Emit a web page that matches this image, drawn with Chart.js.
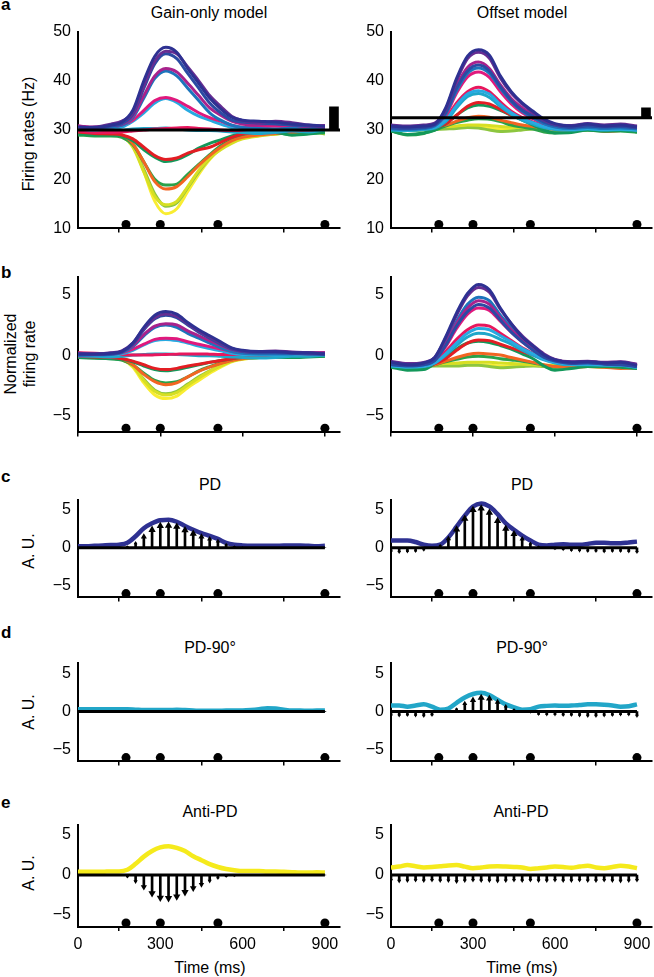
<!DOCTYPE html>
<html>
<head>
<meta charset="utf-8">
<title>Gain-only vs offset model</title>
<script src="https://cdn.jsdelivr.net/npm/chart.js@4.4.1/dist/chart.umd.min.js"></script>
<style>
  html, body { margin: 0; padding: 0; background: #fff; }
  body { width: 654px; height: 977px; position: relative; overflow: hidden;
         font-family: "Liberation Sans", Arial, Helvetica, sans-serif; color: #000; }
  canvas { position: absolute; }
  .txt { position: absolute; white-space: nowrap; line-height: 1; font-size: 16px; transform: translate(-50%, -50%); }
  .rot { transform: translate(-50%, -50%) rotate(-90deg); text-align: center; }
  .letter { position: absolute; font-weight: bold; font-size: 17px; line-height: 1; }
</style>
</head>
<body>
<div class="letter" style="left:1px;top:-4px">a</div>
<div class="letter" style="left:1px;top:264px">b</div>
<div class="letter" style="left:1px;top:468px">c</div>
<div class="letter" style="left:1px;top:624px">d</div>
<div class="letter" style="left:1px;top:794px">e</div>

<div class="txt" style="left:209px;top:13px">Gain-only model</div>
<div class="txt" style="left:522px;top:13px">Offset model</div>
<div class="txt" style="left:210px;top:485px">PD</div>
<div class="txt" style="left:522px;top:485px">PD</div>
<div class="txt" style="left:210px;top:648px">PD-90°</div>
<div class="txt" style="left:522px;top:648px">PD-90°</div>
<div class="txt" style="left:210px;top:812px">Anti-PD</div>
<div class="txt" style="left:521px;top:812px">Anti-PD</div>
<div class="txt" style="left:210px;top:968px">Time (ms)</div>
<div class="txt" style="left:522px;top:968px">Time (ms)</div>

<div class="txt rot" style="left:29px;top:134px">Firing rates (Hz)</div>
<div class="txt rot" style="left:20px;top:354px;line-height:19px">Normalized<br>firing rate</div>
<div class="txt rot" style="left:29px;top:551px">A. U.</div>
<div class="txt rot" style="left:29px;top:712px">A. U.</div>
<div class="txt rot" style="left:29px;top:873px">A. U.</div>

<script>
// ---- data ----
const timeTicks = [0, 300, 600, 900];
const rateTicks = [10, 20, 30, 40, 50];
const auTicks = [-5, 0, 5];
const eventTimes = [175, 300, 510, 900];

const directions = ['PD', 'PD+22.5°', 'PD-22.5°', 'PD+45°', 'PD-45°', 'PD+67.5°', 'PD-67.5°', 'PD+90°',
                    'PD-90°', 'PD+112.5°', 'PD-112.5°', 'PD+135°', 'PD-135°', 'PD+157.5°', 'PD-157.5°', 'Anti-PD'];
const dirColors = ['#2e3192', '#662d91', '#2b4ba3', '#a8228c', '#1c75bc', '#e0197d', '#27aae1', '#e8175d',
                   '#1fa7c9', '#e31e24', '#13985a', '#f26522', '#2aa24a', '#d7df23', '#8dc63f', '#f9ed32'];

// sample times of the firing-rate traces (ms)
const traceTimes = [0, 60, 120, 160, 200, 240, 280, 320, 360, 400, 440, 480, 520, 560, 600, 660, 720, 780, 840, 900];

const gainRates = [
  [30.6,30.5,31.0,31.6,34.0,40.0,45.0,46.8,45.8,42.5,39.5,36.5,34.3,32.6,32.0,31.8,31.6,31.2,31.0,30.8],
  [30.5,30.6,31.2,31.8,33.5,39.0,44.0,46.0,45.5,42.8,40.0,37.0,34.8,32.8,31.9,31.5,31.8,31.5,31.0,30.6],
  [30.4,30.3,30.8,31.3,33.2,38.5,43.5,45.5,44.5,41.5,38.5,35.5,33.5,32.0,31.6,31.4,31.2,31.0,30.8,30.5],
  [30.8,30.6,30.9,31.2,32.8,37.0,41.0,42.5,41.8,39.5,37.0,34.5,33.0,31.8,31.2,31.0,31.3,31.0,30.7,30.9],
  [30.3,30.2,30.6,31.0,32.5,36.5,40.5,42.0,41.0,38.5,36.0,33.5,32.0,31.0,30.5,30.3,30.2,30.4,30.5,30.3],
  [30.8,30.5,30.6,31.0,32.0,34.0,36.0,36.6,36.0,34.8,33.5,32.5,31.8,31.0,30.6,30.6,30.8,30.5,30.6,30.9],
  [30.2,30.0,30.3,30.6,31.8,33.5,35.5,36.4,35.6,34.0,32.8,32.0,31.2,30.5,30.0,29.8,29.8,30.0,30.3,30.2],
  [29.8,29.5,29.5,29.6,29.8,30.0,30.2,30.3,30.4,30.5,30.3,30.2,30.0,29.9,29.9,30.0,30.2,30.1,30.0,30.3],
  [30.0,29.8,29.7,29.9,30.2,30.3,30.3,30.4,30.2,30.0,29.9,29.9,29.8,29.6,29.5,29.3,29.5,29.8,29.6,30.0],
  [29.6,29.3,29.2,29.0,28.2,26.5,24.8,24.0,24.3,25.3,26.0,26.5,27.5,28.5,29.2,29.5,29.6,29.8,30.0,30.3],
  [29.2,29.0,29.0,28.8,27.8,26.0,24.5,23.6,24.0,25.0,26.3,27.3,28.0,28.8,29.3,29.6,29.5,29.0,29.2,29.6],
  [29.6,29.4,29.3,29.0,27.2,23.5,19.5,18.0,18.5,20.5,22.8,24.8,26.5,27.8,28.5,29.0,29.3,29.5,29.6,29.8],
  [29.0,28.8,28.8,28.5,27.0,23.5,20.0,18.8,19.0,21.0,23.0,25.0,26.8,28.0,28.8,29.3,29.5,29.0,29.3,29.5],
  [29.4,29.2,29.3,28.8,26.5,21.5,16.5,14.8,15.5,18.5,21.8,24.3,26.0,27.3,28.2,28.8,29.2,29.5,29.7,29.6],
  [29.3,29.0,29.1,28.7,26.8,22.0,17.0,14.5,15.2,18.3,21.5,24.2,26.2,27.5,28.4,28.9,29.2,29.4,29.6,29.2],
  [29.5,29.3,29.5,29.0,27.0,21.5,15.5,13.0,14.0,17.5,21.0,24.0,26.3,27.8,28.6,29.0,29.2,29.5,29.8,29.3]
];

const offsetRates = [
  [30.8,30.6,30.8,31.2,34.5,40.5,45.0,46.3,45.2,41.0,37.8,35.5,33.8,32.2,31.3,30.8,31.2,30.8,31.0,30.6],
  [31.0,30.8,31.0,31.4,34.2,40.0,44.5,45.8,44.6,40.6,37.5,35.3,33.5,32.0,31.2,30.9,31.3,31.0,31.2,30.8],
  [30.4,30.3,30.5,31.0,33.5,38.5,42.0,43.2,42.0,38.8,36.0,34.0,32.8,31.6,31.0,30.5,30.8,30.6,30.7,30.4],
  [30.6,30.5,30.7,31.1,33.8,39.0,42.7,43.8,42.5,39.2,36.4,34.5,33.0,31.8,31.0,30.7,31.0,30.8,30.9,30.6],
  [30.2,30.1,30.3,30.8,33.2,38.0,41.5,42.6,41.5,38.5,35.8,33.8,32.5,31.3,30.6,30.3,30.5,30.3,30.4,30.2],
  [30.5,30.4,30.6,31.0,33.0,37.5,40.8,41.8,40.7,37.8,35.3,33.5,32.3,31.3,30.7,30.5,30.7,30.5,30.8,30.4],
  [30.1,30.0,30.2,30.6,32.0,35.0,37.3,38.0,37.3,35.2,33.5,32.3,31.5,30.7,30.3,30.1,30.3,30.1,30.2,30.0],
  [30.3,30.2,30.4,30.8,32.3,35.5,37.8,38.7,37.8,35.7,33.8,32.5,31.6,30.9,30.4,30.2,30.4,30.3,30.5,30.2],
  [30.0,29.9,30.1,30.4,31.7,34.5,36.8,37.4,36.6,34.8,33.2,32.0,31.2,30.5,30.1,30.0,30.2,30.0,30.1,29.9],
  [30.3,30.1,30.2,30.5,31.3,33.0,34.8,35.6,35.3,34.2,33.0,32.2,31.5,30.8,30.3,30.2,30.4,30.1,30.3,30.0],
  [29.8,29.1,29.4,30.0,31.2,33.0,34.5,35.1,34.8,34.0,33.0,32.0,31.0,30.0,29.4,29.5,30.0,29.8,29.9,29.7],
  [30.2,30.0,30.3,30.6,31.0,31.8,32.5,32.8,32.6,32.0,31.5,31.0,30.7,30.4,30.1,30.0,30.2,29.8,29.9,30.0],
  [29.8,29.0,29.3,30.0,30.8,31.5,32.0,32.3,32.2,31.7,31.0,30.6,30.2,29.6,29.4,29.8,30.0,29.7,29.8,29.5],
  [30.4,30.3,30.5,30.6,30.7,30.8,31.0,31.0,30.9,30.7,30.6,30.5,30.4,30.3,30.2,30.3,30.5,30.2,30.3,30.1],
  [30.0,29.9,30.0,30.1,30.2,30.3,30.5,30.4,30.0,29.7,29.8,30.0,30.2,30.1,29.9,29.8,30.0,29.9,30.0,29.7],
  [30.5,30.3,30.2,30.3,30.4,30.5,30.6,30.6,30.4,30.2,30.3,30.4,30.3,30.2,30.1,30.0,30.2,30.0,30.2,30.0]
];

const gainNorm = [
  [0.1,0.1,0.15,0.3,1.0,2.3,3.3,3.6,3.4,2.7,2.1,1.6,1.1,0.6,0.4,0.3,0.3,0.2,0.2,0.1],
  [0.15,0.1,0.2,0.35,1.0,2.2,3.1,3.4,3.2,2.6,2.0,1.5,1.0,0.55,0.35,0.3,0.35,0.25,0.2,0.15],
  [0.0,0.05,0.1,0.25,0.9,2.1,3.0,3.3,3.1,2.5,1.9,1.4,0.9,0.5,0.3,0.2,0.2,0.15,0.1,0.05],
  [0.1,0.1,0.15,0.3,0.8,1.7,2.4,2.6,2.5,2.0,1.6,1.2,0.8,0.45,0.3,0.25,0.3,0.2,0.15,0.2],
  [0.0,0.0,0.05,0.2,0.7,1.6,2.3,2.5,2.3,1.8,1.4,1.0,0.6,0.3,0.15,0.1,0.1,0.1,0.15,0.1],
  [0.15,0.1,0.1,0.2,0.5,0.9,1.3,1.4,1.35,1.1,0.9,0.7,0.5,0.3,0.2,0.15,0.2,0.15,0.2,0.2],
  [-0.05,-0.05,0.0,0.1,0.4,0.85,1.2,1.3,1.2,1.0,0.75,0.55,0.35,0.15,0.05,0.0,0.0,0.05,0.1,0.0],
  [0.2,0.15,0.1,0.05,0.0,0.0,0.02,0.05,0.08,0.1,0.1,0.08,0.05,0.05,0.05,0.05,0.1,0.1,0.1,0.15],
  [-0.05,-0.1,-0.15,-0.1,0.0,0.05,0.1,0.1,0.05,0.0,-0.05,-0.05,-0.1,-0.15,-0.2,-0.25,-0.2,-0.1,-0.1,0.0],
  [-0.1,-0.15,-0.2,-0.3,-0.5,-0.8,-1.1,-1.2,-1.1,-0.9,-0.75,-0.6,-0.45,-0.3,-0.15,-0.1,-0.05,0.0,0.05,0.1],
  [-0.2,-0.25,-0.3,-0.35,-0.55,-0.9,-1.2,-1.3,-1.2,-1.0,-0.8,-0.6,-0.45,-0.3,-0.2,-0.1,-0.15,-0.2,-0.15,-0.1],
  [-0.1,-0.15,-0.2,-0.3,-0.8,-1.6,-2.2,-2.45,-2.3,-1.8,-1.35,-1.0,-0.7,-0.45,-0.3,-0.2,-0.15,-0.1,0.0,0.0],
  [-0.2,-0.25,-0.3,-0.4,-0.8,-1.5,-2.1,-2.3,-2.2,-1.8,-1.3,-0.95,-0.65,-0.4,-0.25,-0.15,-0.15,-0.2,-0.1,-0.05],
  [-0.1,-0.15,-0.2,-0.35,-0.9,-2.1,-3.0,-3.3,-3.1,-2.5,-1.9,-1.35,-0.9,-0.5,-0.3,-0.2,-0.1,-0.05,0.0,0.0],
  [-0.15,-0.2,-0.25,-0.4,-0.9,-2.0,-2.9,-3.2,-3.0,-2.4,-1.8,-1.3,-0.85,-0.5,-0.3,-0.2,-0.15,-0.1,-0.05,-0.1],
  [-0.1,-0.15,-0.2,-0.35,-1.0,-2.3,-3.3,-3.6,-3.4,-2.7,-2.1,-1.5,-1.0,-0.55,-0.35,-0.2,-0.1,-0.05,0.0,-0.05]
];

const offsetNorm = [
  [-0.6,-0.8,-0.65,-0.2,1.5,3.5,5.1,5.85,5.4,3.9,2.6,1.5,0.75,0.0,-0.4,-0.6,-0.55,-0.65,-0.6,-0.85],
  [-0.5,-0.7,-0.6,-0.2,1.4,3.3,4.9,5.6,5.2,3.8,2.6,1.6,0.8,0.1,-0.35,-0.55,-0.5,-0.6,-0.55,-0.75],
  [-0.8,-0.9,-0.8,-0.45,0.8,2.4,3.6,4.2,3.9,2.9,1.9,1.1,0.4,-0.2,-0.5,-0.7,-0.65,-0.75,-0.8,-0.95],
  [-0.6,-0.75,-0.7,-0.35,0.9,2.6,3.9,4.5,4.2,3.1,2.1,1.3,0.55,-0.05,-0.4,-0.6,-0.55,-0.65,-0.6,-0.8],
  [-0.75,-0.85,-0.8,-0.4,1.0,2.8,4.2,4.8,4.5,3.3,2.3,1.4,0.6,0.0,-0.4,-0.6,-0.55,-0.65,-0.7,-0.9],
  [-0.7,-0.8,-0.75,-0.4,0.7,2.2,3.4,3.9,3.7,2.8,1.9,1.1,0.45,-0.1,-0.45,-0.65,-0.6,-0.7,-0.65,-0.85],
  [-0.9,-1.0,-0.95,-0.65,0.1,1.0,1.8,2.2,2.1,1.6,1.1,0.55,0.1,-0.35,-0.6,-0.75,-0.75,-0.8,-0.85,-1.0],
  [-0.75,-0.85,-0.8,-0.5,0.3,1.3,2.1,2.5,2.4,1.8,1.2,0.6,0.15,-0.3,-0.55,-0.7,-0.7,-0.75,-0.7,-0.9],
  [-0.85,-0.95,-0.9,-0.65,0.0,0.8,1.5,1.8,1.7,1.3,0.9,0.4,0.0,-0.4,-0.65,-0.8,-0.8,-0.85,-0.85,-1.0],
  [-0.8,-0.9,-0.9,-0.7,-0.3,0.4,1.0,1.25,1.2,0.9,0.6,0.3,0.0,-0.3,-0.6,-0.75,-0.75,-0.8,-0.8,-0.95],
  [-1.0,-1.25,-1.2,-0.7,-0.2,0.5,1.0,1.15,1.05,0.8,0.5,0.1,-0.3,-0.9,-1.25,-1.1,-0.95,-0.95,-1.0,-1.1],
  [-0.9,-0.95,-0.9,-0.8,-0.5,-0.2,0.05,0.15,0.1,0.0,-0.2,-0.4,-0.6,-0.8,-0.95,-1.0,-0.95,-1.0,-1.1,-1.05],
  [-0.9,-1.15,-1.0,-0.8,-0.55,-0.35,-0.15,-0.1,-0.15,-0.3,-0.4,-0.5,-0.65,-0.85,-1.0,-0.95,-0.9,-0.95,-1.0,-1.1],
  [-0.8,-0.85,-0.8,-0.75,-0.7,-0.65,-0.6,-0.6,-0.6,-0.65,-0.7,-0.75,-0.8,-0.85,-0.85,-0.9,-0.85,-0.9,-0.9,-0.95],
  [-0.95,-1.0,-0.95,-0.9,-0.9,-0.9,-0.85,-0.85,-0.95,-1.05,-1.0,-0.95,-0.9,-0.95,-1.0,-1.0,-0.95,-1.0,-1.0,-1.05],
  [-0.9,-0.95,-0.9,-0.85,-0.85,-0.8,-0.8,-0.8,-0.85,-0.9,-0.9,-0.85,-0.85,-0.9,-0.95,-0.95,-0.9,-0.95,-0.95,-1.0]
];

// reference level + scale bar of panel a
const gainBaseline = 30;
const gainScaleBar = [30, 34.7];
const offsetBaseline = 32.5;
const offsetScaleBar = [32.5, 34.5];
const scaleBarTime = 933;

// population vectors (c-e), sampled every 30 ms
const vecTimes = [0,30,60,90,120,150,180,210,240,270,300,330,360,390,420,450,480,510,540,570,600,630,660,690,720,750,780,810,840,870,900];

const pdGain      = [0.2,0.2,0.25,0.3,0.35,0.4,0.65,1.5,2.55,3.2,3.6,3.65,3.4,2.85,2.35,1.9,1.55,1.15,0.65,0.4,0.3,0.25,0.25,0.25,0.25,0.3,0.3,0.3,0.25,0.2,0.25];
const pdGainVec   = [0,0,0,0,0,0,0.15,0.6,1.45,2.35,2.85,2.9,2.75,2.3,1.85,1.45,1.15,0.85,0.4,0.15,0.05,0,0,0,0,0,0,0,0,0,0];
const pdOffset    = [0.95,0.95,0.95,0.75,0.4,0.25,0.4,1.35,2.75,4.2,5.4,5.8,5.4,4.4,3.2,2.35,1.6,0.95,0.4,0.3,0.4,0.45,0.4,0.4,0.5,0.65,0.65,0.6,0.6,0.7,0.8];
const pdOffsetVec = [-0.5,-0.55,-0.5,-0.45,-0.3,0,0.3,1.2,2.4,3.8,4.95,5.15,4.6,3.5,2.5,1.8,1.15,0.55,0.15,0,-0.15,-0.25,-0.35,-0.4,-0.45,-0.45,-0.5,-0.45,-0.45,-0.5,-0.55];

const orthGain      = [0.3,0.3,0.3,0.3,0.3,0.3,0.3,0.25,0.2,0.2,0.2,0.2,0.25,0.2,0.15,0.1,0.1,0.1,0.15,0.15,0.15,0.2,0.3,0.45,0.4,0.25,0.15,0.15,0.1,0.15,0.15];
const orthGainVec   = [0,0,0,0,0,0,0,0,0,0,0,0,0,0,0,0,0,0,0,0,0,0,0,0,0,0,0,0,0,0,0];
const orthOffset    = [0.8,0.8,0.65,0.8,0.95,0.65,0.25,0.4,1.15,1.85,2.3,2.45,2.15,1.55,0.95,0.55,0.25,0.3,0.65,0.75,0.8,0.75,0.8,0.85,0.95,0.95,0.9,0.8,0.65,0.7,0.95];
const orthOffsetVec = [-0.5,-0.5,-0.45,-0.5,-0.55,-0.45,0,0.05,0.35,1.05,1.5,1.8,1.7,1.25,0.7,0.25,0,-0.1,-0.35,-0.4,-0.4,-0.45,-0.45,-0.5,-0.55,-0.55,-0.5,-0.45,-0.4,-0.4,-0.55];

const antiGain      = [0.4,0.4,0.4,0.4,0.45,0.45,0.65,1.4,2.3,3.0,3.45,3.6,3.4,3.0,2.35,1.85,1.35,1.0,0.75,0.6,0.5,0.5,0.5,0.45,0.45,0.4,0.35,0.3,0.3,0.35,0.3];
const antiGainVec   = [0,0,0,0,0,0,-0.25,-0.8,-1.5,-2.3,-2.85,-2.9,-2.7,-2.15,-1.65,-1.2,-0.75,-0.4,-0.2,-0.1,0,0,0,0,0,0,0,0,0,0,0];
const antiOffset    = [0.95,1.05,1.25,1.1,0.95,1.0,1.1,1.2,1.25,1.05,0.85,0.95,1.05,1.1,1.05,1.0,0.95,0.75,0.85,0.95,1.05,1.0,0.9,1.05,1.15,0.95,0.85,1.0,1.15,1.05,0.85];
const antiOffsetVec = [-0.65,-0.75,-0.7,-0.65,-0.7,-0.65,-0.7,-0.7,-0.8,-0.7,-0.65,-0.7,-0.7,-0.75,-0.7,-0.65,-0.7,-0.65,-0.7,-0.7,-0.65,-0.7,-0.7,-0.65,-0.7,-0.7,-0.65,-0.7,-0.75,-0.7,-0.65];

// ---- layout ----
Chart.defaults.font.family = '"Liberation Sans", Arial, Helvetica, sans-serif';
Chart.defaults.font.size = 16;
Chart.defaults.color = '#000';

const X_MAX = 955;
const COLS = [{ left: 78, right: 340 }, { left: 391, right: 652 }];
const ROWS = [
  { top: 29, bottom: 233 },
  { top: 274, bottom: 437 },
  { top: 497, bottom: 602 },
  { top: 660, bottom: 766 },
  { top: 822, bottom: 927 }
];
const Y_AXIS_W = 50, PAD_TOP = 14, PAD_RIGHT = 24;

const fixedTicks = values => scale => { scale.ticks = values.map(v => ({ value: v })); };
const pts = (times, values) => times.map((t, i) => ({ x: t, y: values[i] }));

function trace(times, values, color, width, label) {
  return {
    type: 'line', label, data: pts(times, values), borderColor: color, borderWidth: width,
    pointRadius: 0, cubicInterpolationMode: 'monotone', borderJoinStyle: 'round', fill: false, order: 3
  };
}

function refLine(level, x1) {
  return { type: 'line', data: [{ x: 0, y: level }, { x: x1, y: level }], borderColor: '#000',
           borderWidth: 3, pointRadius: 0, order: 1 };
}

function scaleBar(range) {
  return { type: 'bar', data: [{ x: scaleBarTime, y: range }], backgroundColor: '#000',
           barThickness: 9, grouped: false, order: 1 };
}

function stems(times, values) {
  return { type: 'bar', data: pts(times, values), backgroundColor: '#000', barThickness: 2,
           grouped: false, order: 0 };
}

function heads(times, values) {
  const v = ctx => (ctx.raw ? ctx.raw.y : 0);
  return {
    type: 'line', showLine: false, data: pts(times, values), pointStyle: 'triangle',
    pointRadius: ctx => Math.abs(v(ctx)) < 0.05 ? 0 : Math.min(4.2, 1.2 + Math.abs(v(ctx)) * 1.6),
    pointRotation: ctx => v(ctx) < 0 ? 180 : 0,
    pointBackgroundColor: '#000', pointBorderWidth: 0, order: 0
  };
}

function events(level) {
  return { type: 'line', showLine: false, data: eventTimes.map(t => ({ x: t, y: level })),
           pointRadius: 4.5, pointBackgroundColor: '#000', pointBorderWidth: 0, clip: false, order: 0 };
}

function panel(row, col, yMin, yMax, yTicks, datasets) {
  const c = COLS[col], r = ROWS[row];
  const withTime = row === 4;
  const xAxisH = withTime ? 34 : 12;
  const canvas = document.createElement('canvas');
  canvas.width = Y_AXIS_W + (c.right - c.left) + PAD_RIGHT;
  canvas.height = PAD_TOP + (r.bottom - r.top) + xAxisH;
  canvas.style.left = (c.left - Y_AXIS_W) + 'px';
  canvas.style.top = (r.top - PAD_TOP) + 'px';
  document.body.appendChild(canvas);

  return new Chart(canvas, {
    type: 'line',
    data: { datasets },
    options: {
      responsive: false,
      animation: false,
      devicePixelRatio: 1,
      layout: { padding: { left: 0, top: PAD_TOP, right: PAD_RIGHT, bottom: 0 } },
      plugins: { legend: { display: false }, tooltip: { enabled: false } },
      scales: {
        x: {
          type: 'linear', min: 0, max: X_MAX, offset: false,
          afterBuildTicks: fixedTicks(timeTicks),
          afterFit: s => { s.height = xAxisH; },
          grid: { display: true, drawOnChartArea: false, drawTicks: true, tickLength: 4, color: '#000', lineWidth: 1.5 },
          border: { display: true, color: '#000', width: 2 },
          ticks: { padding: 4, maxRotation: 0, autoSkip: false, callback: v => withTime ? String(v) : '' }
        },
        y: {
          type: 'linear', min: yMin, max: yMax, stacked: false,
          afterBuildTicks: fixedTicks(yTicks),
          afterFit: s => { s.width = Y_AXIS_W; },
          grid: { display: false, drawTicks: false },
          border: { display: true, color: '#000', width: 2 },
          ticks: { padding: 7, autoSkip: false, callback: v => v < 0 ? '\u2212' + Math.abs(v) : String(v) }
        }
      }
    }
  });
}

const fan = rates => rates.map((vals, i) => trace(traceTimes, vals, dirColors[i], 3, directions[i]));

// a: firing rates
panel(0, 0, 10, 50, rateTicks, [events(10.8), refLine(gainBaseline, X_MAX), scaleBar(gainScaleBar), ...fan(gainRates)]);
panel(0, 1, 10, 50, rateTicks, [events(10.8), refLine(offsetBaseline, X_MAX), scaleBar(offsetScaleBar), ...fan(offsetRates)]);
// b: normalized firing rates
panel(1, 0, -6.4, 6.5, auTicks, [events(-6.05), ...fan(gainNorm)]);
panel(1, 1, -6.4, 6.5, auTicks, [events(-6.05), ...fan(offsetNorm)]);
// c-e: population vectors
const vecPanel = (row, col, yMax, vec, line, color, label) =>
  panel(row, col, -6.5, yMax, auTicks, [
    events(-6.0), stems(vecTimes, vec), heads(vecTimes, vec),
    refLine(0, 900), trace(vecTimes, line, color, 4.5, label)
  ]);
vecPanel(2, 0, 6.3, pdGainVec, pdGain, '#2e3192', 'PD');
vecPanel(2, 1, 6.3, pdOffsetVec, pdOffset, '#2e3192', 'PD');
vecPanel(3, 0, 6.4, orthGainVec, orthGain, '#22a6c8', 'PD-90°');
vecPanel(3, 1, 6.4, orthOffsetVec, orthOffset, '#22a6c8', 'PD-90°');
vecPanel(4, 0, 6.3, antiGainVec, antiGain, '#f5ea1c', 'Anti-PD');
vecPanel(4, 1, 6.3, antiOffsetVec, antiOffset, '#f5ea1c', 'Anti-PD');
</script>
</body>
</html>
